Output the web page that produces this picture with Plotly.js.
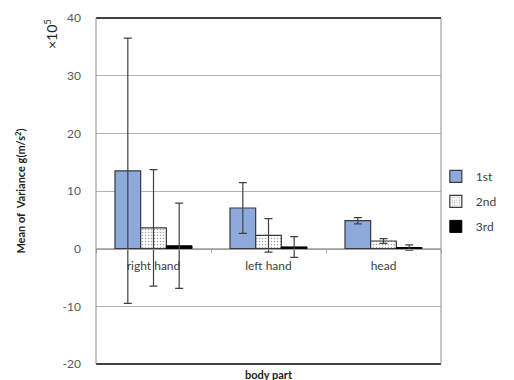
<!DOCTYPE html>
<html><head><meta charset="utf-8">
<script src="https://cdn.plot.ly/plotly-3.0.1.min.js"></script>
<style>body{margin:0;background:#fff}#c{width:514px;height:380px}</style>
</head><body><div id="c"></div>
<script>
const categories = ["right hand", "left hand", "head"];
const seriesNames = ["1st", "2nd", "3rd"];
const means1 = [13.5, 7.05, 4.85];
const means2 = [3.6, 2.3, 1.33];
const means3 = [0.5, 0.3, 0.2];
const err1 = [23.0, 4.4, 0.55];
const err2 = [10.1, 2.9, 0.4];
const err3 = [7.4, 1.8, 0.45];
const yTicks = [-20, -10, 0, 10, 20, 30, 40];

const edge = '#3a3a3a';
const errStyle = a => ({type:'data', array:a, visible:true, color:'#404040', thickness:1.2, width:4});
const traces = [
  {type:'bar', name:seriesNames[0], legendgroup:'a', x:categories, y:means1, error_y:errStyle(err1),
   marker:{color:'#8eaadc', line:{color:edge, width:1.2}}},
  {type:'bar', name:seriesNames[1], legendgroup:'b', x:categories, y:means2, error_y:errStyle(err2),
   marker:{color:'#ffffff', line:{color:edge, width:1.2},
     pattern:{shape:'.', fgcolor:'#a0a0a0', bgcolor:'#ffffff', size:3, solidity:0.2}}},
  {type:'bar', name:seriesNames[2], legendgroup:'c', x:categories, y:means3, error_y:errStyle(err3),
   marker:{color:'#000000', line:{color:'#000000', width:1}}}
];

const layout = {
  width:514, height:380,
  margin:{l:96, r:54, t:18, b:16},
  paper_bgcolor:'#fff', plot_bgcolor:'#fff',
  font:{family:'Lato, "Open Sans", sans-serif', size:12, color:'#404040'},
  barmode:'group', bargap:0.33, bargroupgap:0,
  showlegend:true,
  legend:{x:0.985, xanchor:'left', y:0.47, yanchor:'middle', font:{size:12, color:'#404040'},
    itemwidth:30, traceorder:'grouped', tracegroupgap:6, bgcolor:'rgba(0,0,0,0)'},
  xaxis:{type:'category', anchor:'free', position:1/3, showline:true, linecolor:'#a0a0a0', linewidth:1,
    ticks:'outside', tickson:'boundaries', ticklen:3, tickcolor:'#a0a0a0', ticklabelstandoff:6,
    tickfont:{size:12, color:'#404040'}, showgrid:false, zeroline:false, fixedrange:true},
  yaxis:{range:[-20,40], tickvals:yTicks, ticktext:yTicks.map(String), showgrid:true, gridcolor:'#b4b4b4',
    gridwidth:1, zeroline:false, showline:false, ticks:'', ticklabelstandoff:14,
    tickfont:{size:12, color:'#595959'},
    title:{text:'<b>Mean of  Variance g(m/s<sup>2</sup>)</b>', font:{size:11, color:'#222'}, standoff:34}},
  shapes:[
    {type:'line', xref:'paper', yref:'paper', x0:0, x1:1, y0:1, y1:1, line:{color:'#000', width:1.5}},
    {type:'line', xref:'paper', yref:'paper', x0:0, x1:1, y0:0, y1:0, line:{color:'#000', width:1.5}},
    {type:'line', xref:'paper', yref:'paper', x0:0, x1:0, y0:0, y1:1, line:{color:'#8c8c8c', width:1}},
    {type:'line', xref:'paper', yref:'paper', x0:1, x1:1, y0:0, y1:1, line:{color:'#8c8c8c', width:1}}
  ],
  annotations:[
    {text:'<b>body part</b>', xref:'paper', yref:'paper', x:0.5, y:0, yshift:-10, showarrow:false,
     font:{size:11, color:'#222'}, xanchor:'center', yanchor:'middle'},
    {text:'×10<sup>5</sup>', xref:'paper', yref:'paper', x:0, xshift:-46, y:1, yshift:-16, textangle:-90,
     showarrow:false, font:{size:14, color:'#222'}, xanchor:'center', yanchor:'middle'}
  ]
};
Plotly.newPlot('c', traces, layout, {displayModeBar:false, staticPlot:true});
</script></body></html>
